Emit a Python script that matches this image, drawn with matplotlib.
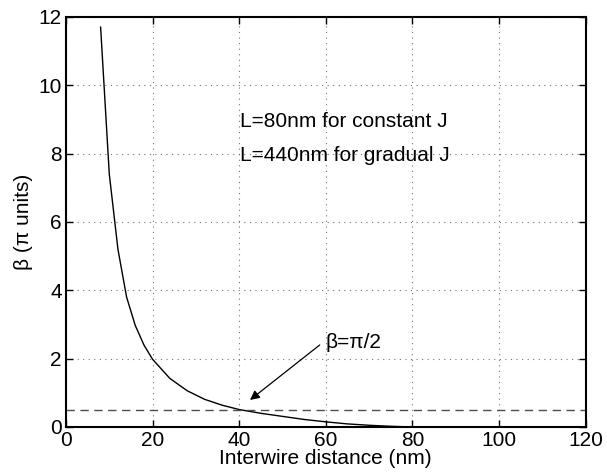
import matplotlib
matplotlib.use("Agg")
import matplotlib.pyplot as plt

distance_nm = [8, 10, 12, 14, 16, 18, 20, 24, 28, 32, 36, 40, 45, 50, 55, 60, 65, 70, 75, 80]
beta_pi = [11.7, 7.4, 5.2, 3.8, 2.97, 2.4, 1.98, 1.42, 1.06, 0.81, 0.64, 0.51, 0.40, 0.31, 0.22, 0.15, 0.09, 0.05, 0.02, 0.0]
threshold = 0.5
x_ticks = [0, 20, 40, 60, 80, 100, 120]
y_ticks = [0, 2, 4, 6, 8, 10, 12]

plt.rcParams['font.family'] = ['Liberation Sans', 'DejaVu Sans']
fig = plt.figure(figsize=(6.07, 4.73), dpi=100)
ax = fig.add_axes([0.1087, 0.0973, 0.856, 0.867])

ax.plot(distance_nm, beta_pi, color='black', lw=1.0)
ax.axhline(threshold, color='0.3', lw=1.0, ls=(0, (6, 4)))

ax.set_xlim(0, 120)
ax.set_ylim(0, 12)
ax.set_xticks(x_ticks)
ax.set_yticks(y_ticks)
ax.grid(True, ls=(0, (1, 4)), color='0.45', lw=0.8)
ax.tick_params(direction='in', length=5, labelsize=15, top=True, right=True, width=1)
ax.tick_params(axis='x', pad=3)
ax.tick_params(axis='y', pad=3)
for s in ax.spines.values():
    s.set_linewidth(1.5)

ax.set_xlabel('Interwire distance (nm)', fontsize=15, labelpad=-1)
ax.set_ylabel('β (π units)', fontsize=15, labelpad=4)

ax.text(40.2, 8.93, 'L=80nm for constant J', fontsize=15, va='center', ha='left')
ax.text(40.2, 7.93, 'L=440nm for gradual J', fontsize=15, va='center', ha='left')

ax.text(60, 2.47, 'β=π/2', fontsize=15, va='center', ha='left')
ax.annotate('', xy=(42.5, 0.79), xytext=(58.6, 2.4),
            arrowprops=dict(arrowstyle='-|>', color='black', lw=0.9, shrinkA=0, shrinkB=0,
                            mutation_scale=14))

fig.savefig('out.png', dpi=100)
